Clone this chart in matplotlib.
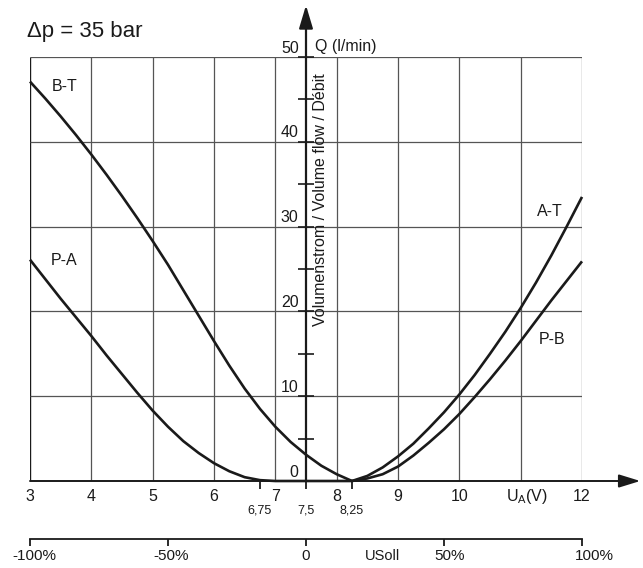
import matplotlib
matplotlib.use('Agg')
import matplotlib.pyplot as plt

plt.rcParams['font.family'] = ['Liberation Sans', 'DejaVu Sans']

# flow Q (l/min) over command voltage U_A (V), dp = 35 bar
u_bt = [3, 3.25, 3.5, 3.75, 4, 4.25, 4.5, 4.75, 5, 5.25, 5.5, 5.75, 6,
        6.25, 6.5, 6.75, 7, 7.25, 7.5, 7.75, 8, 8.25]
q_bt = [47.1, 45.1, 43.0, 40.8, 38.5, 36.1, 33.6, 31.0, 28.3, 25.5, 22.5, 19.5, 16.5,
        13.6, 10.9, 8.5, 6.4, 4.6, 3.1, 1.8, 0.8, 0]

u_pa = [3, 3.25, 3.5, 3.75, 4, 4.25, 4.5, 4.75, 5, 5.25, 5.5, 5.75, 6,
        6.25, 6.5, 6.75, 7, 8.25]
q_pa = [26.1, 23.8, 21.5, 19.3, 17.1, 14.8, 12.6, 10.4, 8.3, 6.4, 4.7, 3.3, 2.1,
        1.15, 0.45, 0.1, 0, 0]

u_at = [8.25, 8.5, 8.75, 9, 9.25, 9.5, 9.75, 10, 10.25, 10.5, 10.75, 11,
        11.25, 11.5, 11.75, 12]
q_at = [0, 0.6, 1.6, 2.9, 4.4, 6.2, 8.1, 10.2, 12.5, 15.0, 17.6, 20.4,
        23.4, 26.6, 30.0, 33.5]

u_pb = [8.25, 8.5, 8.75, 9, 9.25, 9.5, 9.75, 10, 10.25, 10.5, 10.75, 11,
        11.25, 11.5, 11.75, 12]
q_pb = [0, 0.3, 0.8, 1.7, 3.0, 4.5, 6.1, 7.9, 9.9, 12.0, 14.2, 16.5,
        18.9, 21.3, 23.6, 25.9]

curve_names = ['B-T', 'P-A', 'A-T', 'P-B']
name_pos_u = [3.57, 3.55, 11.47, 11.52]
name_pos_q = [46.5, 26.0, 31.8, 16.7]

u_ticks = [3, 4, 5, 6, 7, 8, 9, 10, 12]
u_grid = [4, 5, 6, 7, 8, 9, 10, 11, 12]
u_small = [6.75, 7.5, 8.25]
u_small_labels = ['6,75', '7,5', '8,25']
q_ticks = [0, 10, 20, 30, 40, 50]
q_minor = [5, 15, 25, 35, 45]
pct_ticks = [-100, -50, 0, 50, 100]
pct_labels = ['-100%', '-50%', '0', '50%', '100%']
pct_shift = [3, 2, 0, 4, 9]   # label offsets in points, as printed


def pct_to_u(p):
    return 7.5 + p * 4.5 / 100


def u_to_pct(u):
    return (u - 7.5) / 4.5 * 100


dark = '#1a1a1a'
grid_col = '#555555'

fig = plt.figure(figsize=(6.43, 5.68), dpi=100)
ax = fig.add_axes([30 / 643, 87 / 568, 552 / 643, 424 / 568])
ax.set_xlim(3, 12)
ax.set_ylim(0, 50)
for s in ax.spines.values():
    s.set_visible(False)
ax.set_xticks([])
ax.set_yticks([])

# grid
ax.vlines(u_grid, 0, 50, color=grid_col, lw=0.9)
ax.vlines(3, 0, 50, color=dark, lw=1.0)
ax.hlines(q_ticks[1:], 3, 12, color=grid_col, lw=0.9)

# axes with arrows
ax.annotate('', xy=(12.95, 0), xytext=(3, 0), annotation_clip=False,
            arrowprops=dict(arrowstyle='-|>,head_length=1.3,head_width=0.4',
                            mutation_scale=10, lw=1.4, color=dark, shrinkA=0, shrinkB=0))
ax.annotate('', xy=(7.5, 56.1), xytext=(7.5, 0), annotation_clip=False,
            arrowprops=dict(arrowstyle='-|>,head_length=1.4,head_width=0.42',
                            mutation_scale=10, lw=1.6, color=dark, shrinkA=0, shrinkB=0))

# ticks on Q axis
ax.hlines(q_ticks[1:] + q_minor, 7.5 - 0.125, 7.5 + 0.125, color=dark, lw=1.2, clip_on=False)
for q in q_ticks:
    ax.text(7.38, q + 1.05, str(q), ha='right', va='center', fontsize=11.5, color=dark)

# ticks on U axis
ax.vlines(7.5, -0.95, 1.1, color=dark, lw=1.3, clip_on=False)
ax.vlines([6.75, 8.25], -0.95, 0, color=dark, lw=1.3, clip_on=False)
for u in u_ticks:
    ax.text(u, -1.8, str(u), ha='center', va='center', fontsize=11.5, color=dark)
ax.text(11.1, -1.8, 'U$_\\mathregular{A}$(V)', ha='center', va='center', fontsize=11.5, color=dark)
for u, lab in zip(u_small, u_small_labels):
    ax.text(u, -3.45, lab, ha='center', va='center', fontsize=9, color=dark)

# curves
for u, q in [(u_bt, q_bt), (u_pa, q_pa), (u_at, q_at), (u_pb, q_pb)]:
    ax.plot(u, q, color=dark, lw=1.9, clip_on=False,
            solid_joinstyle='round', solid_capstyle='butt')
for name, u, q in zip(curve_names, name_pos_u, name_pos_q):
    ax.text(u, q, name, ha='center', va='center', fontsize=11.5, color=dark)

ax.text(7.65, 51.2, 'Q (l/min)', ha='left', va='center', fontsize=11.5, color=dark)
ax.text(7.73, 33.2, 'Volumenstrom / Volume flow / Débit', rotation=90,
        ha='center', va='center', fontsize=11.5, color=dark)
ax.text(2.95, 53.0, '\u0394p = 35 bar', ha='left', va='center', fontsize=16, color=dark)

# command signal axis in percent
sec = ax.secondary_xaxis(-58 / 424, functions=(u_to_pct, pct_to_u))
sec.set_xticks(pct_ticks, [''] * len(pct_ticks))
sec.tick_params(direction='out', length=5, width=1.3, colors=dark)
sec.spines['bottom'].set_linewidth(1.3)
sec.spines['bottom'].set_color(dark)
for p, lab, dx in zip(pct_ticks, pct_labels, pct_shift):
    ax.annotate(lab, xy=(pct_to_u(p), -8.85), xytext=(dx, 0), textcoords='offset points',
                ha='center', va='center', fontsize=11, color=dark, annotation_clip=False)
ax.text(8.74, -8.85, 'USoll', ha='center', va='center', fontsize=10.5, color=dark)

fig.savefig('out.png', dpi=100)
